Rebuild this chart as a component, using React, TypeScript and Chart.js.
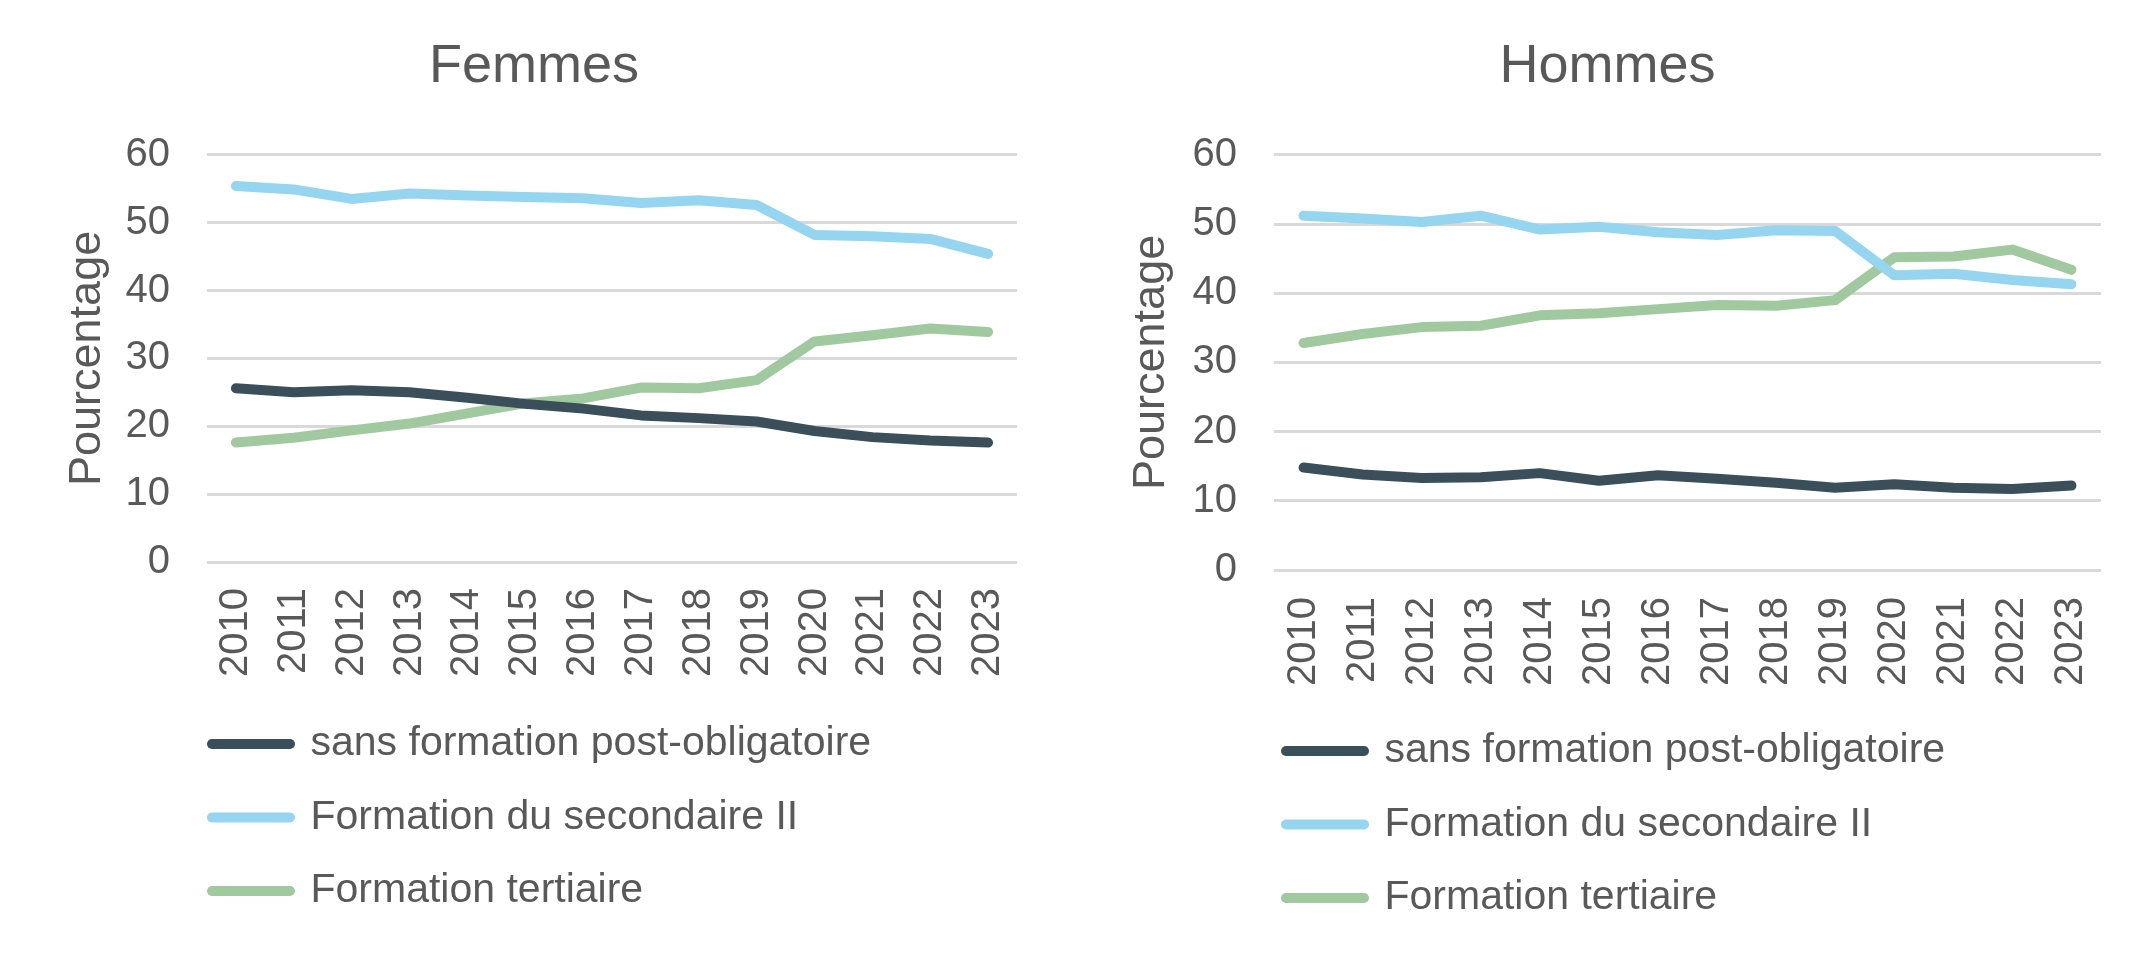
import { useEffect, useRef } from 'react';
import { Chart, registerables } from 'chart.js';

Chart.register(...registerables);

const years = ['2010', '2011', '2012', '2013', '2014', '2015', '2016', '2017', '2018', '2019', '2020', '2021', '2022', '2023'];
const seriesLabels = ['sans formation post-obligatoire', 'Formation du secondaire II', 'Formation tertiaire'];

const femmesSans = [25.6, 25.0, 25.3, 25.0, 24.2, 23.3, 22.6, 21.6, 21.2, 20.7, 19.3, 18.4, 17.9, 17.6];
const femmesSecondaire = [55.4, 54.9, 53.5, 54.3, 54.0, 53.8, 53.6, 52.9, 53.3, 52.6, 48.2, 48.0, 47.6, 45.4];
const femmesTertiaire = [17.6, 18.3, 19.4, 20.4, 21.9, 23.4, 24.1, 25.7, 25.6, 26.8, 32.5, 33.4, 34.4, 33.9];

const hommesSans = [14.8, 13.8, 13.3, 13.4, 14.0, 12.9, 13.7, 13.2, 12.6, 11.9, 12.4, 11.9, 11.7, 12.2];
const hommesSecondaire = [51.2, 50.8, 50.3, 51.2, 49.2, 49.6, 48.8, 48.4, 49.1, 49.0, 42.6, 42.8, 41.9, 41.3];
const hommesTertiaire = [32.8, 34.1, 35.1, 35.3, 36.8, 37.1, 37.7, 38.3, 38.2, 39.0, 45.2, 45.3, 46.3, 43.4];

const yTicks = [0, 10, 20, 30, 40, 50, 60];

const COLORS = ['#3a4f59', '#95d5f0', '#a1c9a0'];
const FONT = '"Liberation Sans", Arial, Helvetica, sans-serif';
const TEXT = '#595959';
const TICK_FONT = 40;
const LEGEND_FONT = 41;
const LEGEND_PAD = 32.5;

type PanelProps = {
    title: string;
    series: number[][];
    padL: number;
    padR: number;
    padB: number;
    yWidth: number;
    yTitlePad: number;
    xTickPad: number;
    legendX: number;
    legendRowY: number;
};

function ChartPanel(p: PanelProps) {
    const canvasRef = useRef<HTMLCanvasElement>(null);

    useEffect(() => {
        if (!canvasRef.current) return;

        // legend sits in the chart area for layout, then gets moved below the axis
        const legendPlacer = {
            id: 'legendPlacer',
            afterLayout(chart: any) {
                const lg = chart.legend;
                if (!lg) return;
                lg.left = p.legendX - LEGEND_PAD;
                lg.top = p.legendRowY - LEGEND_PAD - LEGEND_FONT / 2;
                lg.right = chart.width;
                lg.bottom = chart.height;
                lg.width = lg.right - lg.left;
                lg.height = lg.bottom - lg.top;
            },
        };

        const chart = new Chart(canvasRef.current, {
            type: 'line',
            data: {
                labels: years,
                datasets: p.series.map((values, i) => ({
                    label: seriesLabels[i],
                    data: values,
                    borderColor: COLORS[i],
                    backgroundColor: COLORS[i],
                    borderWidth: 10,
                    borderCapStyle: 'round' as const,
                    borderJoinStyle: 'round' as const,
                    pointRadius: 0,
                    pointHoverRadius: 0,
                    tension: 0,
                    fill: false,
                })),
            },
            options: {
                responsive: false,
                animation: false,
                devicePixelRatio: 1,
                layout: { padding: { left: p.padL, right: p.padR, top: 0, bottom: p.padB } },
                plugins: {
                    title: {
                        display: true,
                        text: p.title,
                        color: TEXT,
                        font: { family: FONT, size: 54, weight: 'normal' },
                        padding: { top: 35, bottom: 55 },
                    },
                    legend: {
                        position: 'chartArea',
                        align: 'start',
                        labels: {
                            usePointStyle: true,
                            pointStyle: 'line',
                            pointStyleWidth: 78,
                            padding: LEGEND_PAD,
                            color: TEXT,
                            font: { family: FONT, size: LEGEND_FONT },
                            generateLabels: (c: any) =>
                                Chart.defaults.plugins.legend.labels.generateLabels(c).map((item: any) => ({ ...item, lineCap: 'round' })),
                        },
                    },
                    tooltip: { enabled: false },
                },
                scales: {
                    x: {
                        offset: true,
                        afterFit: (s: any) => { s.height = 120; },
                        grid: { display: false, drawTicks: false },
                        border: { display: false },
                        ticks: {
                            autoSkip: false,
                            maxRotation: 90,
                            minRotation: 90,
                            padding: p.xTickPad,
                            color: TEXT,
                            font: { family: FONT, size: TICK_FONT },
                        },
                    },
                    y: {
                        min: yTicks[0],
                        max: yTicks[yTicks.length - 1],
                        afterFit: (s: any) => { s.width = p.yWidth; },
                        afterBuildTicks: (s: any) => { s.ticks = yTicks.map((v) => ({ value: v })); },
                        grid: { color: '#d9d9d9', lineWidth: 3, drawTicks: false },
                        border: { display: false },
                        ticks: {
                            padding: 37,
                            color: TEXT,
                            font: { family: FONT, size: TICK_FONT },
                        },
                        title: {
                            display: true,
                            text: 'Pourcentage',
                            color: TEXT,
                            font: { family: FONT, size: 45 },
                            padding: { top: p.yTitlePad, bottom: 0 },
                        },
                    },
                },
            },
            plugins: [legendPlacer],
        });

        return () => { chart.destroy(); };
    }, []);

    return <canvas ref={canvasRef} width={1076} height={957} style={{ display: 'block' }} />;
}

export default function App() {
    return (
        <div style={{ position: 'absolute', left: 0, top: 0, width: 2152, height: 957, background: '#fff', display: 'flex' }}>
            <ChartPanel
                title="Femmes"
                series={[femmesSans, femmesSecondaire, femmesTertiaire]}
                padL={51}
                padR={59}
                padB={275}
                yWidth={156}
                yTitlePad={10}
                xTickPad={26}
                legendX={212}
                legendRowY={744}
            />
            <ChartPanel
                title="Hommes"
                series={[hommesSans, hommesSecondaire, hommesTertiaire]}
                padL={38}
                padR={51}
                padB={267}
                yWidth={160}
                yTitlePad={11}
                xTickPad={27}
                legendX={210}
                legendRowY={751}
            />
        </div>
    );
}
